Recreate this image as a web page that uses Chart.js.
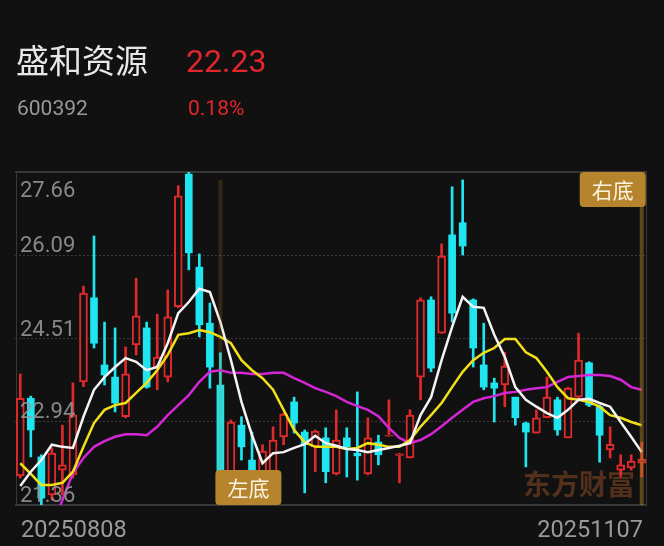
<!DOCTYPE html>
<html>
<head>
<meta charset="utf-8">
<script src="https://cdn.jsdelivr.net/npm/chart.js@4.4.1/dist/chart.umd.min.js"></script>
<style>
html, body { margin: 0; padding: 0; background: #111111; }
#wrap { position: relative; width: 664px; height: 546px; overflow: hidden; }
#chart { position: absolute; left: 0; top: 0; }
.txt { position: absolute; line-height: 1; white-space: nowrap; }
#name { left: 16px; top: 43px; font-size: 33px; font-family: "Noto Sans CJK SC", sans-serif; color: #e8e8e8; }
#price { left: 186px; top: 45px; font-size: 32px; font-family: Roboto, sans-serif; color: #e3262b; }
#code { left: 17px; top: 98px; font-size: 21px; font-family: Roboto, sans-serif; color: #9a9a9a; }
#pct { left: 188px; top: 98px; font-size: 21px; font-family: Roboto, sans-serif; color: #e3262b; }
</style>
</head>
<body>
<div id="wrap">
    <canvas id="chart" width="664" height="546"></canvas>
    <div class="txt" id="name">盛和资源</div>
    <div class="txt" id="price">22.23</div>
    <div class="txt" id="code">600392</div>
    <div class="txt" id="pct">0.18%</div>
</div>
<script>
"use strict";

// trading days shown
var dates = [
    '20250808', '20250811', '20250812', '20250813', '20250814', '20250815', '20250818', '20250819', '20250820', '20250821',
    '20250822', '20250825', '20250826', '20250827', '20250828', '20250829', '20250901', '20250902', '20250903', '20250904',
    '20250905', '20250908', '20250909', '20250910', '20250911', '20250912', '20250915', '20250916', '20250917', '20250918',
    '20250919', '20250922', '20250923', '20250924', '20250925', '20250926', '20250929', '20250930', '20251009', '20251010',
    '20251013', '20251014', '20251015', '20251016', '20251017', '20251020', '20251021', '20251022', '20251023', '20251024',
    '20251027', '20251028', '20251029', '20251030', '20251031', '20251103', '20251104', '20251105', '20251106', '20251107'
];

var opens = [
    21.91, 23.38, 22.27, 21.55, 22.02, 21.93, 23.69, 25.28, 24.01, 23.78,
    23.03, 24.39, 24.71, 23.97, 23.78, 25.11, 27.62, 25.86, 24.80, 23.63,
    21.99, 22.87, 22.21, 21.82, 21.78, 22.65, 23.31, 22.74, 22.46, 22.63,
    21.95, 22.63, 22.34, 21.95, 22.55, 22.66, 22.30, 22.25, 23.78, 25.24,
    24.61, 26.47, 26.70, 25.24, 24.01, 23.67, 23.63, 23.40, 22.91, 22.72,
    23.01, 23.35, 22.63, 23.40, 24.05, 23.22, 22.40, 22.02, 22.06, 22.15
];
var highs = [
    23.84, 23.42, 22.31, 22.44, 22.87, 23.67, 25.50, 26.45, 24.82, 24.71,
    24.35, 25.65, 24.82, 24.97, 25.43, 27.40, 27.66, 26.11, 25.18, 24.24,
    22.97, 23.03, 22.74, 22.50, 22.84, 23.10, 23.40, 22.78, 22.78, 22.82,
    23.16, 22.82, 23.50, 23.01, 22.68, 23.35, 22.34, 23.16, 25.28, 25.30,
    26.30, 27.38, 27.51, 25.26, 24.80, 23.76, 24.25, 23.40, 22.93, 23.16,
    23.78, 23.40, 23.59, 24.61, 24.07, 23.25, 22.84, 22.31, 22.31, 22.55
];
var lows = [
    21.87, 22.27, 21.36, 21.45, 21.55, 21.87, 23.60, 24.33, 23.63, 23.12,
    23.01, 24.20, 23.57, 23.54, 23.69, 25.09, 25.81, 24.54, 23.57, 21.42,
    21.93, 22.21, 21.64, 21.74, 21.74, 22.50, 22.72, 21.59, 21.99, 21.78,
    21.93, 21.89, 21.83, 21.93, 22.12, 22.66, 21.78, 22.25, 23.35, 23.88,
    24.61, 24.82, 26.09, 23.97, 23.54, 22.93, 23.22, 22.87, 22.08, 22.72,
    23.01, 22.68, 22.63, 23.35, 23.22, 22.17, 22.25, 21.89, 22.02, 21.89
];
var closes = [
    23.38, 22.78, 21.49, 22.34, 22.12, 23.06, 25.37, 24.42, 23.82, 23.29,
    23.84, 24.94, 23.59, 24.16, 24.92, 27.21, 26.13, 24.77, 23.97, 21.64,
    22.93, 22.46, 21.93, 22.38, 22.59, 23.08, 22.91, 22.50, 22.76, 21.99,
    22.59, 22.46, 22.29, 22.63, 22.31, 22.68, 22.33, 23.06, 25.24, 23.95,
    26.07, 24.99, 26.26, 24.33, 23.59, 23.57, 23.99, 23.01, 22.74, 23.01,
    23.40, 22.78, 23.57, 24.10, 23.25, 22.68, 22.51, 22.12, 22.19, 22.23
];

// moving averages
var ma5 = [
    21.72, 21.99, 22.21, 22.50, 22.46, 22.44, 23.03, 23.54, 23.78, 23.97,
    24.14, 24.07, 23.91, 23.97, 24.42, 24.99, 25.20, 25.45, 25.39, 24.82,
    24.10, 23.31, 22.68, 22.15, 22.34, 22.36, 22.44, 22.51, 22.67, 22.53,
    22.48, 22.42, 22.40, 22.36, 22.40, 22.44, 22.48, 22.53, 23.06, 23.40,
    24.10, 24.73, 25.30, 25.11, 25.09, 24.58, 24.16, 23.59, 23.35, 23.22,
    23.10, 23.01, 23.16, 23.35, 23.37, 23.29, 23.22, 22.93, 22.65, 22.36
];
var ma10 = [
    22.15, 21.95, 21.74, 21.74, 21.78, 21.99, 22.46, 22.91, 23.16, 23.25,
    23.29, 23.48, 23.67, 23.91, 24.20, 24.58, 24.61, 24.67, 24.63, 24.54,
    24.42, 24.10, 23.91, 23.76, 23.54, 23.16, 22.78, 22.55, 22.46, 22.46,
    22.46, 22.42, 22.44, 22.53, 22.50, 22.46, 22.46, 22.59, 22.84, 23.06,
    23.29, 23.59, 23.88, 24.10, 24.24, 24.33, 24.50, 24.50, 24.25, 24.14,
    23.88, 23.59, 23.38, 23.35, 23.31, 23.22, 23.06, 23.01, 22.93, 22.87
];
var ma20 = [
    20.00, 20.30, 20.60, 20.95, 21.45, 21.97, 22.25, 22.46, 22.57, 22.65,
    22.70, 22.70, 22.68, 22.84, 23.06, 23.25, 23.44, 23.69, 23.88, 23.91,
    23.86, 23.86, 23.84, 23.84, 23.86, 23.86, 23.76, 23.67, 23.57, 23.50,
    23.42, 23.31, 23.23, 23.16, 23.04, 22.82, 22.63, 22.53, 22.59, 22.70,
    22.85, 23.01, 23.16, 23.31, 23.38, 23.42, 23.48, 23.50, 23.54, 23.57,
    23.59, 23.69, 23.78, 23.80, 23.82, 23.82, 23.80, 23.73, 23.59, 23.54
];

var yTicks = [21.36, 22.94, 24.51, 26.09, 27.66];
var markDates = ['20250904', '20251107'];
var markTexts = ['左底', '右底'];
var watermark = '东方财富';

var UP = '#df2a2c';
var DOWN = '#1fe5f0';
var BG = '#111111';

var KChart = function () {

    var buildSets = function () {
        var wicks = [], ups = [], downs = [], wickColors = [];
        for (var i = 0; i < dates.length; i++) {
            var rising = closes[i] >= opens[i];
            wicks.push([lows[i], highs[i]]);
            wickColors.push(rising ? UP : DOWN);
            ups.push(rising ? [opens[i], closes[i]] : null);
            downs.push(rising ? null : [closes[i], opens[i]]);
        }
        var line = function (data, color) {
            return {
                type: 'line', data: data, borderColor: color, borderWidth: 2.5,
                pointRadius: 0, tension: 0, fill: false, clip: 0, order: 0
            };
        };
        return [
            line(ma5, '#f4f4f4'),
            line(ma10, '#f2e01a'),
            line(ma20, '#d526d6'),
            {
                data: ups, backgroundColor: BG, borderColor: UP, borderWidth: 2,
                borderSkipped: false, barThickness: 8, grouped: false, clip: 0, order: 1
            },
            {
                data: downs, backgroundColor: DOWN, borderColor: DOWN, borderWidth: 0,
                borderSkipped: false, barThickness: 7, grouped: false, clip: 0, order: 1
            },
            {
                data: wicks, backgroundColor: wickColors, borderWidth: 0,
                barThickness: 2, grouped: false, clip: 0, order: 2
            }
        ];
    };

    var roundRect = function (ctx, x, y, w, h, r) {
        ctx.beginPath();
        ctx.moveTo(x + r, y);
        ctx.arcTo(x + w, y, x + w, y + h, r);
        ctx.arcTo(x + w, y + h, x, y + h, r);
        ctx.arcTo(x, y + h, x, y, r);
        ctx.arcTo(x, y, x + w, y, r);
        ctx.closePath();
    };

    var decor = {
        id: 'decor',
        beforeDatasetsDraw: function (chart) {
            var ctx = chart.ctx, a = chart.chartArea, ys = chart.scales.y;
            ctx.save();
            // dotted grid
            ctx.strokeStyle = '#3a3a3a';
            ctx.lineWidth = 1;
            ctx.setLineDash([2, 2]);
            yTicks.slice(1, -1).forEach(function (v) {
                var y = Math.round(ys.getPixelForValue(v)) + 0.5;
                ctx.beginPath();
                ctx.moveTo(a.left, y);
                ctx.lineTo(a.right, y);
                ctx.stroke();
            });
            ctx.setLineDash([]);
            // frame
            ctx.strokeStyle = '#383838';
            ctx.lineWidth = 2;
            ctx.beginPath();
            ctx.moveTo(a.left, a.top); ctx.lineTo(a.right, a.top);
            ctx.moveTo(a.left, a.bottom); ctx.lineTo(a.right, a.bottom);
            ctx.stroke();
            ctx.lineWidth = 1;
            ctx.beginPath();
            ctx.moveTo(a.left + 1.5, a.top); ctx.lineTo(a.left + 1.5, a.bottom);
            ctx.moveTo(a.right - 0.5, a.top); ctx.lineTo(a.right - 0.5, a.bottom);
            ctx.stroke();
            // watermark
            ctx.font = 'bold 28px "Noto Sans CJK SC"';
            ctx.fillStyle = '#52301c';
            ctx.textAlign = 'center';
            ctx.textBaseline = 'alphabetic';
            ctx.fillText(watermark, a.right - 68, a.bottom - 10);
            ctx.restore();
        },
        afterDatasetsDraw: function (chart) {
            var ctx = chart.ctx, a = chart.chartArea, ys = chart.scales.y, xs = chart.scales.x;
            ctx.save();
            // y labels
            ctx.font = '22px Roboto';
            ctx.fillStyle = 'rgba(150,150,150,0.9)';
            ctx.textAlign = 'left';
            ctx.textBaseline = 'alphabetic';
            yTicks.forEach(function (v, i) {
                var y = i === yTicks.length - 1 ? a.top + 25 : ys.getPixelForValue(v) - 3;
                ctx.fillText(v.toFixed(2), a.left + 5, y);
            });
            // bottom / top marks
            markDates.forEach(function (d, i) {
                var px = xs.getPixelForValue(dates.indexOf(d));
                var left = i === 0;
                var bx = left ? px - 5 : px - 62;
                var by = left ? a.bottom - 35 : a.top;
                ctx.fillStyle = left ? 'rgba(185,130,40,0.2)' : 'rgba(185,130,40,0.45)';
                if (left) {
                    ctx.fillRect(px - 2, a.top + 8, 4, by - a.top - 8);
                } else {
                    ctx.fillRect(px - 2, by + 35, 4, a.bottom - by - 35);
                }
                ctx.fillStyle = '#b5842c';
                roundRect(ctx, bx, by, 66, 35, 4);
                ctx.fill();
                ctx.fillStyle = '#fbf3df';
                ctx.font = '21px "Noto Sans CJK SC"';
                ctx.textAlign = 'center';
                ctx.textBaseline = 'middle';
                ctx.fillText(markTexts[i], bx + 33, by + 18);
            });
            // dates
            ctx.font = '23.5px Roboto';
            ctx.fillStyle = '#9a9a9a';
            ctx.textBaseline = 'alphabetic';
            ctx.textAlign = 'left';
            ctx.fillText(dates[0], a.left + 6, 537);
            ctx.textAlign = 'right';
            ctx.fillText(dates[dates.length - 1], a.right - 4, 537);
            ctx.restore();
        }
    };

    var init = function () {
        new Chart(document.getElementById('chart'), {
            type: 'bar',
            data: { labels: dates, datasets: buildSets() },
            options: {
                responsive: false,
                animation: false,
                layout: { padding: { left: 15, right: 17, top: 172, bottom: 41 } },
                plugins: { legend: { display: false }, tooltip: { enabled: false } },
                scales: {
                    x: { display: false, offset: true },
                    y: { display: false, min: yTicks[0], max: yTicks[yTicks.length - 1] }
                }
            },
            plugins: [decor]
        });
    };

    return { init: init };
}();

KChart.init();
</script>
</body>
</html>
